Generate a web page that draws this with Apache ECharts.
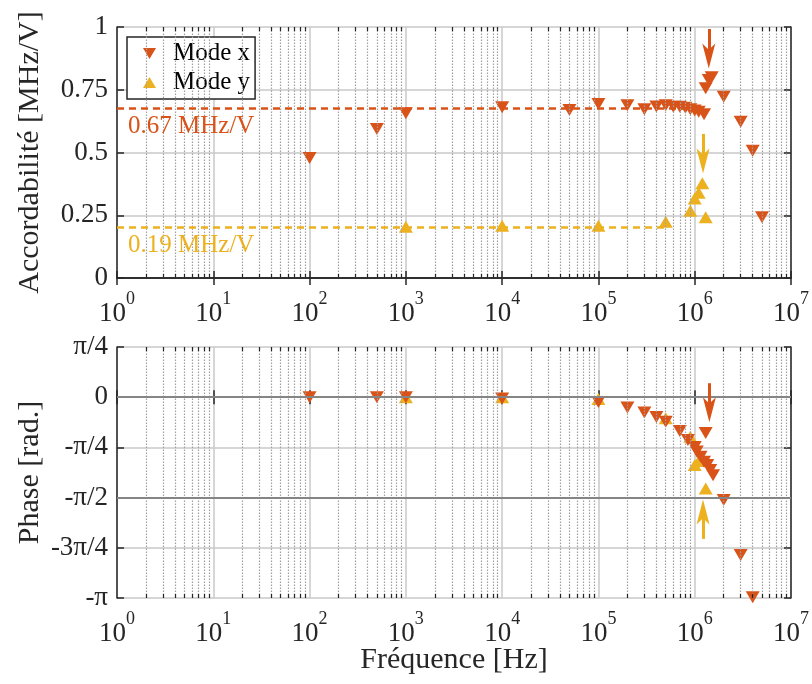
<!DOCTYPE html>
<html><head><meta charset="utf-8">
<script src="https://cdn.jsdelivr.net/npm/echarts@6/dist/echarts.min.js"></script>
<style>html,body{margin:0;padding:0;background:#fff}#c{width:812px;height:684px}</style>
</head><body><div id="c"></div>
<script>
// ---- data ----
const freqAccX = [100, 500, 1e3, 1e4, 5e4, 1e5, 2e5, 3e5, 4e5, 5e5, 6e5, 7e5, 8e5, 9e5, 1e6, 1.1e6, 1.25e6, 1.3e6, 1.4e6, 1.5e6, 2e6, 3e6, 4e6, 5e6];
const accX     = [0.478, 0.594, 0.656, 0.68, 0.669, 0.693, 0.688, 0.672, 0.683, 0.688, 0.682, 0.682, 0.678, 0.672, 0.667, 0.662, 0.652, 0.756, 0.789, 0.80, 0.722, 0.623, 0.507, 0.242];
const freqAccY = [1e3, 1e4, 1e5, 5e5, 9e5, 1e6, 1.1e6, 1.2e6, 1.3e6];
const accY     = [0.204, 0.208, 0.208, 0.224, 0.268, 0.317, 0.34, 0.377, 0.242];

const freqPhX = [100, 500, 1e3, 1e4, 1e5, 2e5, 3e5, 4e5, 5e5, 7e5, 8.5e5, 1e6, 1.05e6, 1.15e6, 1.25e6, 1.3e6, 1.35e6, 1.45e6, 1.55e6, 2e6, 3e6, 4e6];
const phX     = [0, 0, 0, -0.02, -0.075, -0.16, -0.24, -0.31, -0.385, -0.53, -0.67, -0.78, -0.85, -0.93, -1.01, -0.56, -1.06, -1.14, -1.22, -1.61, -2.47, -3.13];
const freqPhY = [1e3, 1e4, 1e5, 5e5, 9e5, 1e6, 1.1e6, 1.2e6, 1.3e6];
const phY     = [0, 0, -0.03, -0.33, -0.62, -1.06, -1.0, -0.95, -1.43];

const meanAccX = 0.677, meanAccXLabel = '0.67 MHz/V', meanAccXEnd = 1e6;
const meanAccY = 0.204, meanAccYLabel = '0.19 MHz/V', meanAccYEnd = 5e5;

// arrows: frequency, tail value, arrow-head centre value, direction
const arrowsTop    = [{f: 1.4e6, tail: 0.992, head: 0.884, dir: 'down', mode: 'x'},
                      {f: 1.22e6, tail: 0.574, head: 0.466, dir: 'down', mode: 'y'}];
const arrowsBottom = [{f: 1.42e6, tail: 0.219, head: -0.198, dir: 'down', mode: 'x'},
                      {f: 1.22e6, tail: -2.217, head: -1.796, dir: 'up', mode: 'y'}];

const phaseTickLabels = ['-π', '-3π/4', '-π/2', '-π/4', '0', 'π/4'];
const minorMultipliers = [2, 3, 4, 5, 6, 7, 8, 9];
const decades = [0, 1, 2, 3, 4, 5, 6];

// ---- styling ----
const FONT = 'Liberation Serif';
const ORANGE = '#D95319', YELLOW = '#EDB120', INK = '#262626';
const PI = Math.PI;
const colorOf = m => m === 'x' ? ORANGE : YELLOW;
const DOWN_HEAD = 'path://M0,0 L6,6 L12,0 L6,24 Z';
const UP_HEAD = 'path://M0,24 L6,18 L12,24 L6,0 Z';
const DOWN_TRI = 'path://M0,0 L12,0 L6,10 Z';
const UP_TRI = 'path://M0,10 L12,10 L6,0 Z';
const MARK = [14, 12];

const minorGridValues = [];
decades.forEach(e => minorMultipliers.forEach(m => minorGridValues.push(m * Math.pow(10, e))));

const pair = (fs, vs) => fs.map((f, i) => [f, vs[i]]);

// minor tick marks (inside), length as a fraction of plot height
const MINOR_TICK_FRAC = 4 / 251;
function minorTicks(yMin, yMax) {
  const d = (yMax - yMin) * MINOR_TICK_FRAC;
  const out = [];
  minorGridValues.forEach(v => {
    out.push([{coord: [v, yMin]}, {coord: [v, yMin + d]}]);
    out.push([{coord: [v, yMax]}, {coord: [v, yMax - d]}]);
  });
  return out;
}

const xLabel = {
  formatter: v => '{b|10}{s|' + Math.round(Math.log10(v)) + '}',
  margin: 12,
  rich: {
    b: {fontSize: 27, fontFamily: FONT, color: INK, verticalAlign: 'bottom'},
    s: {fontSize: 18, fontFamily: FONT, color: INK, verticalAlign: 'bottom', padding: [0, 0, 19, 0]}
  }
};
const axisLineStyle = {show: true, lineStyle: {color: INK, width: 1.5}};
const tickStyle = {show: true, inside: true, length: 7, lineStyle: {color: INK, width: 1.5}};
const gridLine = {show: true, lineStyle: {color: '#c8c8c8', width: 1.5}};

function xAxes(gi, withName) {
  return [
    {type: 'log', logBase: 10, min: 1, max: 1e7, splitNumber: 7, gridIndex: gi, position: 'bottom',
     axisLine: axisLineStyle, axisTick: tickStyle, axisLabel: xLabel, splitLine: gridLine,
     name: withName ? 'Fréquence [Hz]' : '', nameLocation: 'middle', nameGap: 47, nameMoveOverlap: false,
     nameTextStyle: {fontSize: 30, fontFamily: FONT, color: INK}},
    {type: 'log', logBase: 10, min: 1, max: 1e7, splitNumber: 7, gridIndex: gi, position: 'top',
     axisLine: axisLineStyle, axisTick: tickStyle, axisLabel: {show: false}, splitLine: {show: false}}
  ];
}
const yLabelBase = {fontSize: 27, fontFamily: FONT, color: INK, margin: 9};
const yName = {nameLocation: 'middle', nameGap: 72, nameMoveOverlap: false,
               nameTextStyle: {fontSize: 30, fontFamily: FONT, color: INK}};

const option = {
  animation: false,
  backgroundColor: '#fff',
  grid: [
    {left: 117, top: 27, width: 674, height: 251},
    {left: 117, top: 347, width: 674, height: 251}
  ],
  xAxis: [...xAxes(0, false), ...xAxes(1, true)],
  yAxis: [
    Object.assign({type: 'value', gridIndex: 0, min: 0, max: 1, interval: 0.25, position: 'left',
     axisLine: axisLineStyle, axisTick: tickStyle, axisLabel: yLabelBase, splitLine: gridLine,
     name: 'Accordabilité [MHz/V]'}, yName),
    {type: 'value', gridIndex: 0, min: 0, max: 1, interval: 0.25, position: 'right',
     axisLine: axisLineStyle, axisTick: tickStyle, axisLabel: {show: false}, splitLine: {show: false}},
    Object.assign({type: 'value', gridIndex: 1, min: -PI, max: PI / 4, interval: PI / 4, position: 'left',
     axisLine: axisLineStyle, axisTick: tickStyle,
     axisLabel: Object.assign({}, yLabelBase, {formatter: v => phaseTickLabels[Math.round((v + PI) / (PI / 4))]}),
     splitLine: gridLine, name: 'Phase [rad.]'}, yName),
    {type: 'value', gridIndex: 1, min: -PI, max: PI / 4, interval: PI / 4, position: 'right',
     axisLine: axisLineStyle, axisTick: tickStyle, axisLabel: {show: false}, splitLine: {show: false}}
  ],
  legend: {
    data: [{name: 'Mode x', icon: DOWN_TRI}, {name: 'Mode y', icon: UP_TRI}],
    orient: 'vertical', left: 127, top: 37,
    padding: [4, 5, 4, 16], itemGap: 4, itemWidth: 13, itemHeight: 11,
    backgroundColor: '#fff', borderColor: INK, borderWidth: 1.5, borderRadius: 0,
    textStyle: {fontSize: 25, fontFamily: FONT, color: '#000', padding: [0, 0, 0, 12]}
  },
  series: [
    // minor (dotted) grid + minor ticks, top
    {type: 'line', xAxisIndex: 0, yAxisIndex: 0, data: [], silent: true, z: 1,
     markLine: {silent: true, symbol: ['none', 'none'], label: {show: false},
       lineStyle: {color: '#a0a0a0', width: 1.2, type: [1.5, 1.5]},
       data: minorGridValues.map(v => ({xAxis: v})).concat(
         minorTicks(0, 1).map(s => [Object.assign({lineStyle: {color: INK, width: 1.2, type: 'solid'}}, s[0]), s[1]]))}},
    // minor (dotted) grid + darker reference lines + minor ticks, bottom
    {type: 'line', xAxisIndex: 2, yAxisIndex: 2, data: [], silent: true, z: 1,
     markLine: {silent: true, symbol: ['none', 'none'], label: {show: false},
       lineStyle: {color: '#a0a0a0', width: 1.2, type: [1.5, 1.5]},
       data: minorGridValues.map(v => ({xAxis: v})).concat(
         [0, -PI / 2].map(v => ({yAxis: v, lineStyle: {color: '#858585', width: 2, type: 'solid'}})),
         minorTicks(-PI, PI / 4).map(s => [Object.assign({lineStyle: {color: INK, width: 1.2, type: 'solid'}}, s[0]), s[1]]))}},
    // mean tunability dashed lines
    {type: 'line', xAxisIndex: 0, yAxisIndex: 0, data: [], silent: true, z: 2,
     markLine: {silent: true, symbol: ['none', 'none'],
       data: [
         [{coord: [1, meanAccX], lineStyle: {color: ORANGE, width: 2.5, type: [7, 5]},
           label: {show: true, position: 'insideStartBottom', formatter: meanAccXLabel, color: ORANGE,
                   fontSize: 25, fontFamily: FONT, distance: [11, 6]}},
          {coord: [meanAccXEnd, meanAccX]}],
         [{coord: [1, meanAccY], lineStyle: {color: YELLOW, width: 2.5, type: [7, 5]},
           label: {show: true, position: 'insideStartBottom', formatter: meanAccYLabel, color: YELLOW,
                   fontSize: 25, fontFamily: FONT, distance: [11, 6]}},
          {coord: [meanAccYEnd, meanAccY]}]
       ]}},
    {name: 'Mode y', type: 'scatter', xAxisIndex: 0, yAxisIndex: 0, z: 3,
     symbol: 'triangle', symbolSize: MARK, itemStyle: {color: YELLOW, opacity: 1},
     data: pair(freqAccY, accY)},
    {name: 'Mode x', type: 'scatter', xAxisIndex: 0, yAxisIndex: 0, z: 3,
     symbol: 'triangle', symbolRotate: 180, symbolSize: MARK, itemStyle: {color: ORANGE, opacity: 1},
     data: pair(freqAccX, accX)},
    {name: 'Mode y', type: 'scatter', xAxisIndex: 2, yAxisIndex: 2, z: 3,
     symbol: 'triangle', symbolSize: MARK, itemStyle: {color: YELLOW, opacity: 1},
     data: pair(freqPhY, phY)},
    {name: 'Mode x', type: 'scatter', xAxisIndex: 2, yAxisIndex: 2, z: 3,
     symbol: 'triangle', symbolRotate: 180, symbolSize: MARK, itemStyle: {color: ORANGE, opacity: 1},
     data: pair(freqPhX, phX)},
    // arrows
    ...[[arrowsTop, 0], [arrowsBottom, 2]].flatMap(([arr, ai]) => [
      {type: 'line', xAxisIndex: ai, yAxisIndex: ai, data: [], silent: true, z: 4,
       markLine: {silent: true, symbol: ['none', 'none'], label: {show: false},
         data: arr.map(a => [{coord: [a.f, a.tail], lineStyle: {color: colorOf(a.mode), width: 3, type: 'solid'}},
                              {coord: [a.f, a.head]}])}},
      {type: 'scatter', xAxisIndex: ai, yAxisIndex: ai, silent: true, z: 4, symbolSize: [13, 25],
       data: arr.map(a => ({value: [a.f, a.head], symbol: a.dir === 'down' ? DOWN_HEAD : UP_HEAD,
                            itemStyle: {color: colorOf(a.mode), opacity: 1}}))}
    ])
  ]
};
const chart = echarts.init(document.getElementById('c'), null, {renderer: 'canvas'});
chart.setOption(option);
</script>
</body></html>
